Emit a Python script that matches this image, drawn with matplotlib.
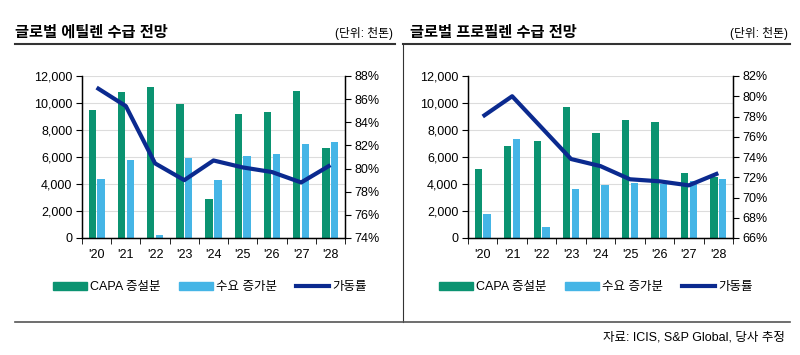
import numpy as np
import matplotlib.pyplot as plt
from matplotlib.lines import Line2D
from matplotlib.patches import Patch
from matplotlib.ticker import FuncFormatter

plt.rcParams['font.family'] = ['Liberation Sans', 'Noto Sans CJK KR', 'DejaVu Sans']

years = ["'20", "'21", "'22", "'23", "'24", "'25", "'26", "'27", "'28"]

# 에틸렌
eth_capa = [9500, 10800, 11200, 9900, 2900, 9200, 9300, 10900, 6700]
eth_demand = [4350, 5800, 200, 5900, 4300, 6100, 6200, 7000, 7100]
eth_util = [87.0, 85.4, 80.45, 79.0, 80.7, 80.1, 79.7, 78.8, 80.3]

# 프로필렌
pro_capa = [5100, 6850, 7150, 9700, 7800, 8750, 8600, 4850, 4550]
pro_demand = [1750, 7300, 800, 3600, 3900, 4050, 4000, 4250, 4350]
pro_util = [78.0, 80.0, 76.9, 73.8, 73.1, 71.8, 71.6, 71.2, 72.4]

GREEN = '#0b9371'
BLUE = '#45b5e6'
NAVY = '#0b2a8f'

fig = plt.figure(figsize=(8, 3.55), dpi=100)
W, H = 800, 355


def px(x0, y0, x1, y1):
    return [x0 / W, 1 - y1 / H, (x1 - x0) / W, (y1 - y0) / H]


def draw(rect, capa, demand, util, ylim2, legend_x):
    ax = fig.add_axes(px(*rect))
    x = np.arange(len(years))
    ax.bar(x - 0.15, capa, width=0.25, color=GREEN, zorder=2)
    ax.bar(x + 0.15, demand, width=0.25, color=BLUE, zorder=2)
    ax.set_xlim(-0.5, len(years) - 0.5)
    ax.set_ylim(0, 12000)
    ax.set_yticks(range(0, 12001, 2000))
    ax.yaxis.set_major_formatter(FuncFormatter(lambda v, p: f'{int(v):,}'))
    ax.yaxis.grid(True, color='#dcdcdc', lw=0.8, zorder=0)
    ax.set_xticks(x)
    ax.set_xticklabels(years)
    ax.set_xticks(np.arange(-0.5, len(years)), minor=True)
    ax.tick_params(axis='x', which='major', length=0, pad=8, labelsize=9)
    ax.tick_params(axis='x', which='minor', length=4, direction='out')
    ax.tick_params(axis='y', length=4, labelsize=9, pad=3)
    ax.spines['top'].set_visible(False)
    for s in ('left', 'bottom', 'right'):
        ax.spines[s].set_linewidth(1.0)

    ax2 = ax.twinx()
    ax2.plot(x, util, color=NAVY, lw=3.0, solid_capstyle='butt', zorder=3)
    ax2.set_ylim(*ylim2)
    ax2.set_yticks(range(ylim2[0], ylim2[1] + 1, 2))
    ax2.yaxis.set_major_formatter(FuncFormatter(lambda v, p: f'{int(v)}%'))
    ax2.tick_params(axis='y', length=4, labelsize=9, pad=3)
    ax2.spines['top'].set_visible(False)

    handles = [Patch(color=GREEN), Patch(color=BLUE), Line2D([], [], color=NAVY, lw=3)]
    labels = ['CAPA 증설분', '수요 증가분', '가동률']
    fig.legend(handles, labels, loc='center', bbox_to_anchor=(legend_x / W, 1 - 287 / H),
               ncol=3, frameon=False, fontsize=9, handlelength=2.7, handleheight=0.6,
               handletextpad=0.25, columnspacing=1.5, borderpad=0)


draw((82, 76, 345, 238), eth_capa, eth_demand, eth_util, (74, 88), 210)
draw((468, 76, 733, 238), pro_capa, pro_demand, pro_util, (66, 82), 596)

# titles
fig.text(15 / W, 1 - 33 / H, '글로벌 에틸렌 수급 전망', fontsize=11, fontweight='bold',
         va='center', ha='left')
fig.text(393 / W, 1 - 33 / H, '(단위: 천톤)', fontsize=8.5, va='center', ha='right')
fig.text(410 / W, 1 - 33 / H, '글로벌 프로필렌 수급 전망', fontsize=11, fontweight='bold',
         va='center', ha='left')
fig.text(788 / W, 1 - 33 / H, '(단위: 천톤)', fontsize=8.5, va='center', ha='right')

# frame lines
fig.add_artist(Line2D([15 / W, 395 / W], [1 - 44 / H] * 2, color='#333333', lw=1.5))
fig.add_artist(Line2D([403 / W, 790 / W], [1 - 44 / H] * 2, color='#333333', lw=1.5))
fig.add_artist(Line2D([403 / W] * 2, [1 - 44 / H, 1 - 322 / H], color='#333333', lw=0.8))
fig.add_artist(Line2D([15 / W, 790 / W], [1 - 322 / H] * 2, color='#555555', lw=1.2))

fig.text(785 / W, 1 - 338 / H, '자료: ICIS, S&P Global, 당사 추정', fontsize=9,
         va='center', ha='right')

fig.savefig('out.png', dpi=100)
